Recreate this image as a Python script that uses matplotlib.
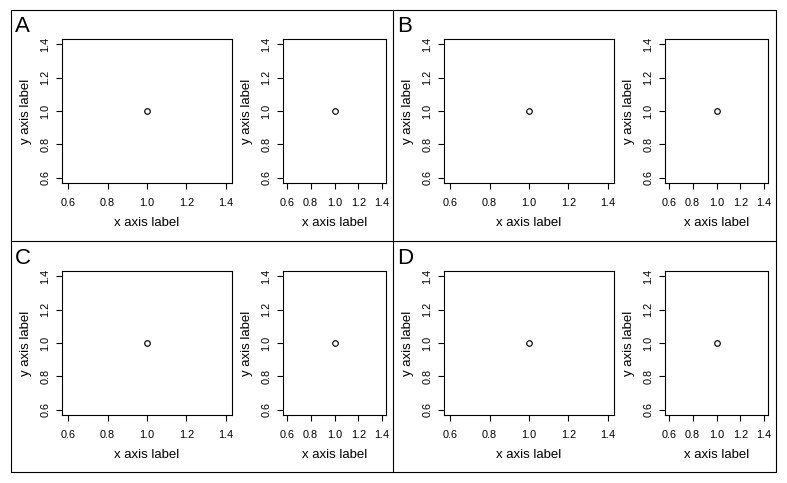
import matplotlib
matplotlib.use('Agg')
import matplotlib.pyplot as plt
from matplotlib.patches import Rectangle

plt.rcParams['font.family'] = ['Liberation Sans', 'DejaVu Sans']

# one point per panel, R-style base plots
xs = [1.0]
ys = [1.0]
ticks = [0.6, 0.8, 1.0, 1.2, 1.4]
tick_labels = ['0.6', '0.8', '1.0', '1.2', '1.4']
panel_letters = ['A', 'B', 'C', 'D']
xlabel = 'x axis label'
ylabel = 'y axis label'

W, H = 787, 483
LW = 0.8
fig = plt.figure(figsize=(W / 100, H / 100), dpi=100)


def px_axes(left, top, right, bottom):
    return fig.add_axes([left / W, 1 - bottom / H, (right - left) / W, (bottom - top) / H])


def draw_plot(ax):
    ax.plot(xs, ys, 'o', mfc='none', mec='black', ms=4.0, mew=0.85)
    lo, hi = 0.6 - 0.032, 1.4 + 0.032
    ax.set_xlim(lo, hi)
    ax.set_ylim(lo, hi)
    ax.set_xticks(ticks)
    ax.set_yticks(ticks)
    ax.set_xticklabels(tick_labels)
    ax.set_yticklabels(tick_labels, rotation=90, va='center')
    for s in ax.spines.values():
        s.set_linewidth(LW)
    ax.tick_params(direction='out', length=4.3, width=LW, labelsize=7.8, pad=6.5)
    ax.tick_params(axis='y', pad=4)
    ax.set_xlabel(xlabel, fontsize=9.5, labelpad=6.5)
    ax.set_ylabel(ylabel, fontsize=9.5, labelpad=6)


# panel offsets (pixels) for A, B, C, D
offsets = [(0, 0), (382, 0), (0, 232), (382, 232)]
for letter, (dx, dy) in zip(panel_letters, offsets):
    ax1 = px_axes(62 + dx, 39 + dy, 232 + dx, 183 + dy)
    draw_plot(ax1)
    ax2 = px_axes(283 + dx, 39 + dy, 386 + dx, 183 + dy)
    draw_plot(ax2)
    fig.text((15 + dx) / W, 1 - (32 + dy) / H, letter, fontsize=16, ha='left', va='baseline')

# outer frame and dividers
x0, xm, x1 = 11, 393, 776
y0, ym, y1 = 10, 241, 472
fig.patches.append(Rectangle((x0 / W, 1 - y1 / H), (x1 - x0) / W, (y1 - y0) / H,
                             transform=fig.transFigure, fill=False, lw=LW, ec='black'))
fig.add_artist(plt.Line2D([xm / W, xm / W], [1 - y0 / H, 1 - y1 / H], transform=fig.transFigure, lw=LW, color='black'))
fig.add_artist(plt.Line2D([x0 / W, x1 / W], [1 - ym / H, 1 - ym / H], transform=fig.transFigure, lw=LW, color='black'))

fig.savefig('out.png', dpi=100)
